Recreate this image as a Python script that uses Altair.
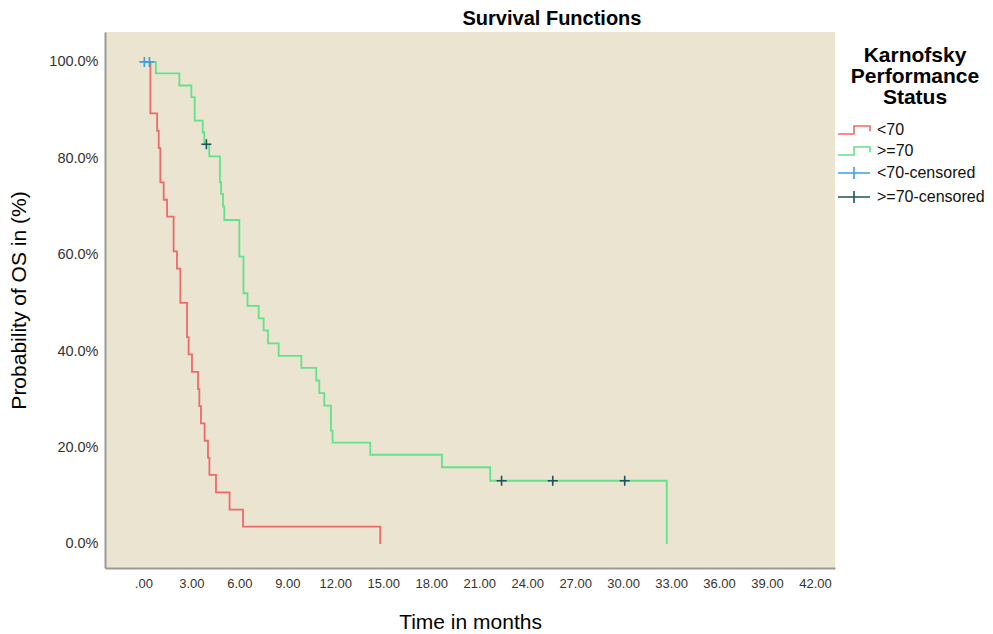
import altair as alt
import pandas as pd

# ---- data ----
red_times = [0, 0.44, 0.86, 0.96, 1.06, 1.27, 1.48, 1.89, 2.10, 2.31, 2.73, 2.83, 3.04,
             3.42, 3.50, 3.60, 3.83, 4.04, 4.13, 4.54, 5.39, 6.23, 14.81]
red_surv = [100, 89.3, 85.7, 82.1, 75.0, 71.4, 67.9, 60.7, 57.1, 50.0, 42.9, 39.3, 35.7,
            32.1, 28.6, 25.0, 21.4, 17.9, 14.3, 10.7, 7.1, 3.6, 0]

green_times = [0, 0.78, 2.25, 3.00, 3.21, 3.71, 3.81, 4.12, 4.79, 4.86, 4.98, 5.06, 6.00,
               6.26, 6.51, 7.21, 7.52, 7.79, 8.46, 9.88, 10.81, 11.00, 11.31, 11.73, 11.83,
               14.19, 18.67, 21.69, 32.73]
green_surv = [100, 97.6, 95.1, 92.7, 87.8, 85.4, 82.9, 80.4, 75.0, 72.6, 70.0, 67.2, 59.6,
              52.0, 49.4, 46.8, 44.3, 41.6, 39.0, 36.5, 33.9, 31.3, 28.7, 23.5, 21.0,
              18.5, 15.9, 13.1, 0]

red_cens_times = [0.06, 0.38]
red_cens_surv = [100, 100]
green_cens_times = [3.94, 22.4, 25.6, 30.1]
green_cens_surv = [82.9, 13.1, 13.1, 13.1]

groups = ["<70", ">=70", "<70-censored", ">=70-censored"]
colors = ["#EE6A6A", "#62E38B", "#3D9FE3", "#1D5456"]

x_ticks = list(range(0, 43, 3))
y_ticks = [0, 20, 40, 60, 80, 100]

lines_df = pd.DataFrame({
    "time": red_times + green_times,
    "surv": red_surv + green_surv,
    "group": ["<70"] * len(red_times) + [">=70"] * len(green_times),
})
cens_df = pd.DataFrame({
    "time": red_cens_times + green_cens_times,
    "surv": red_cens_surv + green_cens_surv,
    "group": ["<70-censored"] * len(red_cens_times) + [">=70-censored"] * len(green_cens_times),
})

FONT = "Liberation Sans"
STEP = "M-2,0.5H0V-0.5H2V0.15"
CROSS_WIDE = "M-2,0H2M0,-0.75V0.75"
CROSS = "M-1,0H1M0,-1V1"

x_scale = alt.Scale(domain=[-2.4, 43.25], nice=False, zero=False)
y_scale = alt.Scale(domain=[-5, 106.2], nice=False, zero=False)
color_scale = alt.Scale(domain=groups, range=colors)
shape_scale = alt.Scale(domain=groups, range=[STEP, STEP, CROSS_WIDE, CROSS_WIDE])
line_scale = alt.Scale(domain=groups[:2], range=colors[:2])
cens_scale = alt.Scale(domain=groups[2:], range=colors[2:])

x_enc = alt.X("time:Q", scale=x_scale, axis=alt.Axis(
    values=x_ticks,
    labelExpr="datum.value == 0 ? '.00' : format(datum.value, '.2f')",
    title="Time in months", labelFontSize=13, labelPadding=9, labelColor="#333333",
    titleFontSize=21, titleFontWeight="normal", titlePadding=21, titleColor="#000000",
    ticks=False, grid=False, domainColor="#999999", domainWidth=2, labelFlush=False))
y_enc = alt.Y("surv:Q", scale=y_scale, axis=alt.Axis(
    values=y_ticks,
    labelExpr="format(datum.value, '.1f') + '%'",
    title="Probability of OS in (%)", labelFontSize=14.5, labelPadding=7, labelColor="#333333",
    titleFontSize=21, titleFontWeight="normal", titlePadding=19, titleColor="#000000",
    ticks=False, grid=False, domainColor="#999999", domainWidth=2))

legend_def = alt.Legend(
    title=["Karnofsky", "Performance", "Status"],
    orient="none", legendX=740, legendY=13,
    titleFontSize=21, titleFontWeight="bold", titleLineHeight=21, titleColor="#000000",
    titleAnchor="middle", titleAlign="center", titlePadding=13,
    labelFontSize=16, labelColor="#111111", labelOffset=14,
    symbolSize=256, symbolStrokeWidth=1.6, symbolOpacity=1, rowPadding=4,
)

lines = alt.Chart(lines_df).mark_line(interpolate="step-after", strokeWidth=1.8).encode(
    x=x_enc, y=y_enc,
    stroke=alt.Stroke("group:N", scale=line_scale, legend=None),
)

crosses = alt.Chart(cens_df).mark_point(shape=CROSS, size=100, filled=False,
                                         strokeWidth=1.6, opacity=1).encode(
    x=x_enc, y=y_enc,
    stroke=alt.Stroke("group:N", scale=cens_scale, legend=None),
)

legend_layer = alt.Chart(cens_df).mark_point(filled=False, opacity=0, strokeWidth=1.6).encode(
    x=x_enc, y=y_enc,
    color=alt.Color("group:N", scale=color_scale, legend=legend_def),
    shape=alt.Shape("group:N", scale=shape_scale, legend=legend_def),
)

chart = alt.layer(lines, crosses, legend_layer).resolve_scale(stroke="independent").properties(
    width=730, height=536,
    autosize=alt.AutoSizeParams(type="none"),
    padding={"left": 97, "top": 24, "right": 150, "bottom": 66},
    title=alt.TitleParams("Survival Functions", fontSize=20, fontWeight="bold", font=FONT,
                          anchor="middle", dx=82, offset=3, color="#000000"),
).configure(font=FONT).configure_view(fill="#EAE4D0", stroke=None)

chart.save("out.html", embed_options={"renderer": "svg", "actions": False})
